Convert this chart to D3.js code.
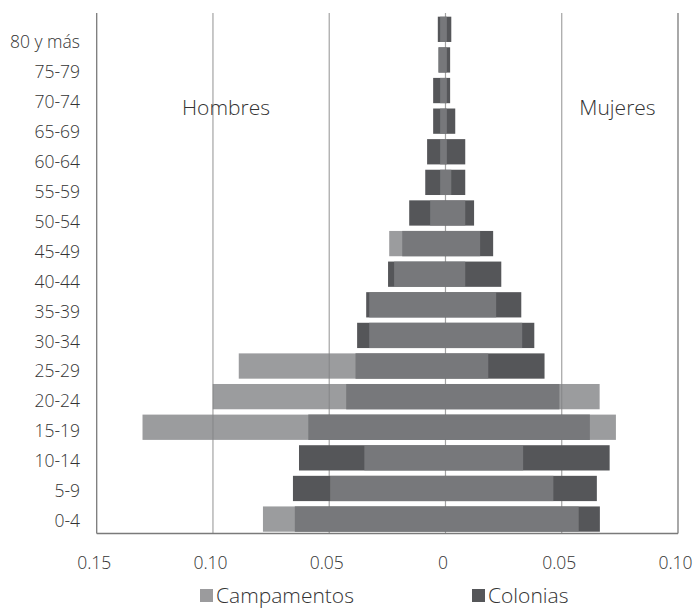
<!DOCTYPE html>
<html>
<head>
<meta charset="utf-8">
<script src="https://cdn.jsdelivr.net/npm/d3@7/dist/d3.min.js"></script>
<style>
  html, body { margin: 0; padding: 0; background: #fff; }
  svg text { font-family: "Open Sans", "Noto Sans", sans-serif; font-weight: 300; fill: #333333; }
</style>
</head>
<body>
<svg id="chart" width="693" height="608"></svg>
<script>
// Age groups (top to bottom)
const categories = ["80 y más","75-79","70-74","65-69","60-64","55-59","50-54","45-49","40-44","35-39","30-34","25-29","20-24","15-19","10-14","5-9","0-4"];

// Proportions — Hombres (left) and Mujeres (right)
const campamentosHombres = [0.0023,0.0030,0.0023,0.0023,0.0023,0.0023,0.0066,0.0242,0.0221,0.0328,0.0328,0.0889,0.1001,0.1303,0.0349,0.0496,0.0785];
const campamentosMujeres = [0.0006,0.0006,0.0006,0.0006,0.0006,0.0025,0.0085,0.0149,0.0085,0.0218,0.0330,0.0184,0.0663,0.0733,0.0334,0.0464,0.0573];
const coloniasHombres    = [0.0033,0.0030,0.0053,0.0053,0.0079,0.0087,0.0156,0.0186,0.0247,0.0341,0.0380,0.0387,0.0427,0.0590,0.0630,0.0656,0.0648];
const coloniasMujeres    = [0.0025,0.0020,0.0020,0.0042,0.0085,0.0085,0.0123,0.0205,0.0240,0.0326,0.0382,0.0426,0.0490,0.0621,0.0706,0.0651,0.0664];

const tickValues = [-0.15,-0.10,-0.05,0,0.05,0.10];
const tickLabels = ["0.15","0.10","0.05","0","0.05","0.10"];
const seriesNames = ["Campamentos","Colonias"];
const sexLabels = ["Hombres","Mujeres"];

(function () {
const svg = d3.select("#chart");
const pLeft = 96.7, pRight = 678, pTop = 13, pBottom = 533.5;

const x = d3.scaleLinear().domain([-0.15, 0.10]).range([pLeft, pRight]);
const y = d3.scaleBand().domain(categories).range([13.5, 534.9]).paddingInner(0.174).paddingOuter(0.104);
const yLab = d3.scalePoint().domain(categories).range([42, 520.5]);

// gridlines
svg.append("g").selectAll("line")
  .data(tickValues.slice(1, -1))
  .join("line")
  .attr("x1", d => x(d)).attr("x2", d => x(d))
  .attr("y1", pTop).attr("y2", pBottom)
  .attr("stroke", "#a3a3a3").attr("stroke-width", 1.2);

const colData = categories.map((c, i) => ({c, l: coloniasHombres[i], r: coloniasMujeres[i]}));
const campData = categories.map((c, i) => ({c, l: campamentosHombres[i], r: campamentosMujeres[i]}));

// Colonias (opaque dark) below
svg.append("g").selectAll("rect")
  .data(colData)
  .join("rect")
  .attr("x", d => x(-d.l))
  .attr("width", d => x(d.r) - x(-d.l))
  .attr("y", d => y(d.c))
  .attr("height", y.bandwidth())
  .attr("fill", "#555659");

// Campamentos (semi-transparent) on top
svg.append("g").selectAll("rect")
  .data(campData)
  .join("rect")
  .attr("x", d => x(-d.l))
  .attr("width", d => x(d.r) - x(-d.l))
  .attr("y", d => y(d.c))
  .attr("height", y.bandwidth())
  .attr("fill", "#808184")
  .attr("fill-opacity", 0.79);

// border lines (left, right, bottom)
const border = svg.append("g").attr("stroke", "#7a7a7a").attr("stroke-width", 1.3).attr("fill", "none");
border.append("line").attr("x1", pLeft).attr("x2", pLeft).attr("y1", pTop).attr("y2", pBottom);
border.append("line").attr("x1", pRight).attr("x2", pRight).attr("y1", pTop).attr("y2", pBottom);
border.append("line").attr("x1", pLeft).attr("x2", pRight).attr("y1", pBottom).attr("y2", pBottom);

// y axis labels
const yAxis = d3.axisLeft(yLab).tickSize(0).tickPadding(0);
const gy = svg.append("g").attr("transform", "translate(80,0)").call(yAxis);
gy.select(".domain").remove();
gy.attr("font-family", null).attr("font-size", null);
gy.selectAll("text").style("font-size", "17.5px").attr("fill", "#333333").attr("dy", "0.34em");

// x axis labels
const xAxis = d3.axisBottom(x).tickValues(tickValues).tickFormat((d, i) => tickLabels[i]).tickSize(0).tickPadding(0);
const gx = svg.append("g").attr("transform", "translate(-3,563)").call(xAxis);
gx.select(".domain").remove();
gx.attr("font-family", null).attr("font-size", null);
gx.selectAll("text").style("font-size", "17.5px").attr("fill", "#333333").attr("dy", "0.34em");

// Hombres / Mujeres
svg.append("text").attr("x", 226).attr("y", 115).attr("text-anchor", "middle")
  .style("font-size", "21px").text(sexLabels[0]);
svg.append("text").attr("x", 617.5).attr("y", 114.5).attr("text-anchor", "middle")
  .style("font-size", "21px").text(sexLabels[1]);

// legend
const legendItems = [
  {name: seriesNames[0], color: "#9b9b9d", sx: 200, tx: 216},
  {name: seriesNames[1], color: "#555659", sx: 472, tx: 488}
];
const lg = svg.append("g");
legendItems.forEach(it => {
  lg.append("rect").attr("x", it.sx).attr("y", 589).attr("width", 13).attr("height", 13).attr("fill", it.color);
  lg.append("text").attr("x", it.tx).attr("y", 595.5).attr("dy", "0.36em")
    .style("font-size", "21px").text(it.name);
});
})();
</script>
</body>
</html>
